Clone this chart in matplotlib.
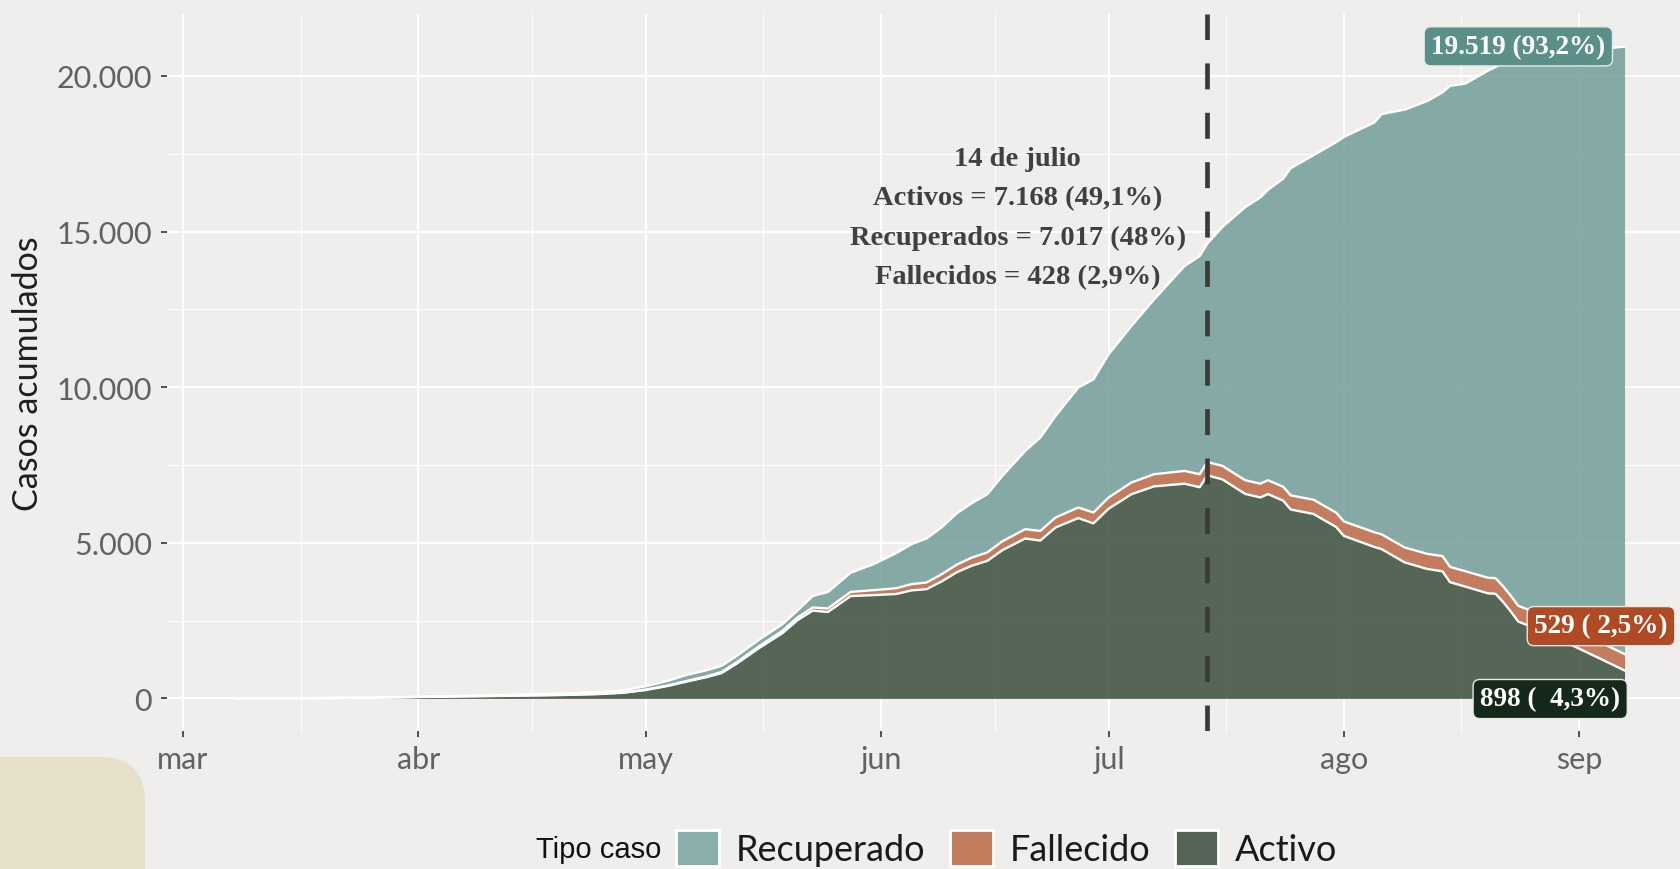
import numpy as np
import pandas as pd
import matplotlib
matplotlib.use("Agg")
import matplotlib.pyplot as plt
from matplotlib.patches import Patch, FancyBboxPatch
from matplotlib.ticker import FuncFormatter, FixedLocator

# casos acumulados por tipo (Activo / Fallecido / Recuperado)
fechas = [
    "2020-03-08", "2020-03-11", "2020-03-15", "2020-03-19", "2020-03-23", "2020-03-27",
    "2020-03-31", "2020-04-05", "2020-04-10", "2020-04-15", "2020-04-20", "2020-04-25",
    "2020-04-28", "2020-05-01", "2020-05-04", "2020-05-06", "2020-05-09", "2020-05-11",
    "2020-05-13", "2020-05-16", "2020-05-19", "2020-05-21", "2020-05-23", "2020-05-25",
    "2020-05-28", "2020-05-31", "2020-06-03", "2020-06-05", "2020-06-07", "2020-06-09",
    "2020-06-11", "2020-06-13", "2020-06-15", "2020-06-17", "2020-06-20", "2020-06-22",
    "2020-06-24", "2020-06-27", "2020-06-29", "2020-07-01", "2020-07-04", "2020-07-07",
    "2020-07-11", "2020-07-13", "2020-07-14", "2020-07-16", "2020-07-19", "2020-07-21",
    "2020-07-22", "2020-07-24", "2020-07-25", "2020-07-28", "2020-07-31", "2020-08-01",
    "2020-08-05", "2020-08-06", "2020-08-09", "2020-08-12", "2020-08-14", "2020-08-15",
    "2020-08-17", "2020-08-20", "2020-08-21", "2020-08-22", "2020-08-23", "2020-08-24",
    "2020-08-25", "2020-08-26", "2020-08-28", "2020-08-31", "2020-09-03", "2020-09-05",
    "2020-09-07",
]
activos = [
    1, 2, 6, 11, 18, 29, 42, 60, 75, 91, 110, 141, 181, 270, 404, 520, 682, 815,
    1120, 1630, 2095, 2515, 2822, 2775, 3288, 3318, 3355, 3470, 3510, 3760, 4055, 4268,
    4418, 4765, 5137, 5072, 5492, 5794, 5623, 6095, 6561, 6813, 6899, 6785, 7168, 7038,
    6570, 6457, 6565, 6354, 6070, 5927, 5505, 5222, 4868, 4795, 4372, 4159, 4085, 3734,
    3593, 3376, 3362, 3097, 2796, 2468, 2372, 2303, 2067, 1717, 1368, 1135, 898,
]
fallecidos = [
    0, 0, 0, 0, 0, 0, 1, 2, 3, 4, 5, 7, 9, 12, 16, 20, 28, 35,
    45, 60, 75, 85, 100, 115, 135, 160, 185, 200, 215, 230, 245, 260,
    270, 285, 300, 310, 320, 340, 350, 360, 375, 390, 410, 418, 428, 432,
    440, 443, 445, 448, 452, 457, 462, 465, 472, 475, 480, 485, 488, 492,
    495, 500, 501, 503, 504, 506, 508, 510, 513, 518, 522, 525, 529,
]
recuperados = [
    0, 0, 0, 0, 0, 0, 5, 10, 18, 30, 45, 55, 65, 110, 150, 190, 195, 200,
    205, 210, 215, 225, 370, 530, 615, 835, 1130, 1285, 1415, 1510, 1650, 1752,
    1872, 2100, 2514, 2999, 3263, 3853, 4281, 4602, 5029, 5620, 6583, 7010, 7017, 7680,
    8774, 9200, 9332, 9898, 10514, 11069, 11907, 12354, 13160, 13506, 14065, 14550, 14900, 15456,
    15665, 16294, 16426, 16800, 17130, 17476, 17620, 17727, 18040, 18495, 18950, 19230, 19519,
]

tipos = ["Recuperado", "Fallecido", "Activo"]
meses = ["mar", "abr", "may", "jun", "jul", "ago", "sep"]
inicio_meses = ["2020-03-01", "2020-04-01", "2020-05-01", "2020-06-01",
                "2020-07-01", "2020-08-01", "2020-09-01", "2020-10-01"]
fecha_corte = "2020-07-14"

FONDO = "#EFEEEC"
relleno = {"Recuperado": "#739E9A", "Fallecido": "#BC6845", "Activo": "#3A4E3C"}
caja = {"Recuperado": "#5B8F8A", "Fallecido": "#B04A22", "Activo": "#14291A"}
leyenda_color = {"Recuperado": "#8AAEAA", "Fallecido": "#C47C5E", "Activo": "#556656"}

SANS = ["Lato", "DejaVu Sans"]
SERIF = ["Liberation Serif", "DejaVu Serif"]


def miles(v):
    return f"{int(round(v)):,}".replace(",", ".")


def pct(v, total):
    p = round(v / total * 100, 1)
    s = f"{p:.1f}".replace(".", ",")
    return s[:-2] if s.endswith(",0") else s


x = pd.to_datetime(fechas)
a = np.array(activos, dtype=float)
f = np.array(fallecidos, dtype=float)
r = np.array(recuperados, dtype=float)
capas = [(0 * a, a, "Activo"), (a, a + f, "Fallecido"), (a + f, a + f + r, "Recuperado")]

fig = plt.figure(figsize=(16.8, 8.7), dpi=100, facecolor=FONDO)
ax = fig.add_axes([166.5 / 1680, 1 - 732 / 870, 1 - 166.5 / 1680, (732 - 15) / 870])
ax.set_facecolor(FONDO)

for base, tope, tipo in capas:
    ax.fill_between(x, base, tope, color=relleno[tipo], alpha=0.85, lw=0, zorder=2)
for base, tope, tipo in capas:
    ax.plot(x, tope, color="white", lw=1.7, zorder=3, solid_joinstyle="round")

ax.axvline(pd.Timestamp(fecha_corte), color="#3B3B3B", lw=3.4, dashes=(5.5, 4.96), zorder=4)

# ejes y grilla
mar1 = pd.Timestamp("2020-03-01")
ax.set_xlim(mar1 - pd.Timedelta(days=2.175), mar1 + pd.Timedelta(days=197.31))
ax.set_ylim(-1047, 21990)

mayores = pd.to_datetime(inicio_meses)
menores = mayores[:-1] + (mayores[1:] - mayores[:-1]) / 2
ax.set_xticks(mayores[:-1])
ax.set_xticklabels(meses)
ax.xaxis.set_minor_locator(FixedLocator(matplotlib.dates.date2num(menores)))
ax.set_yticks([0, 5000, 10000, 15000, 20000])
ax.yaxis.set_minor_locator(FixedLocator([2500, 7500, 12500, 17500]))
ax.yaxis.set_major_formatter(FuncFormatter(lambda v, _: miles(v)))

ax.grid(which="major", color="white", lw=1.5)
ax.grid(which="minor", color="white", lw=0.8)
ax.set_axisbelow(True)
for s in ax.spines.values():
    s.set_visible(False)
ax.tick_params(which="major", length=4.3, width=1.2, color="#333333", pad=6,
               labelsize=22, labelcolor="#626262")
ax.tick_params(which="minor", length=0)
for t in ax.get_xticklabels() + ax.get_yticklabels():
    t.set_family(SANS)
ax.set_ylabel("Casos acumulados", fontsize=24.5, family=SANS, color="#1E1E1E", labelpad=9)

# anotacion del dia de corte
i = fechas.index(fecha_corte)
tot_i = a[i] + f[i] + r[i]
nota = (f"14 de julio\n"
        f"Activos = {miles(a[i])} ({pct(a[i], tot_i)}%)\n"
        f"Recuperados = {miles(r[i])} ({pct(r[i], tot_i)}%)\n"
        f"Fallecidos = {miles(f[i])} ({pct(f[i], tot_i)}%)")
ax.text(pd.Timestamp("2020-06-19"), 15450, nota, ha="center", va="center",
        fontsize=20.5, family=SERIF, fontweight="bold", color="#404040",
        linespacing=1.75, zorder=5)

# etiquetas al final de cada serie
tot = a[-1] + f[-1] + r[-1]
etiquetas = [
    ("Recuperado", f"{miles(r[-1])} ({pct(r[-1], tot)}%)", 176.0, 20950),
    ("Fallecido", f"{miles(f[-1])} ({pct(f[-1], tot):>4}%)", 186.9, 2323),
    ("Activo", f"{miles(a[-1])} ({pct(a[-1], tot):>5}%)", 180.2, -20),
]
for tipo, texto, dia, yv in etiquetas:
    ax.text(mar1 + pd.Timedelta(days=dia), yv, texto, ha="center", va="center",
            fontsize=19.5, family=SERIF, fontweight="bold", color="white", zorder=6,
            bbox=dict(boxstyle="round,pad=0.26,rounding_size=0.25",
                      fc=caja[tipo], ec="#E8E8E8", lw=1))

# leyenda
fig.text(661 / 1680, 1 - 850 / 870, "Tipo caso", ha="right", va="center",
         fontsize=21, family=["Liberation Sans", "DejaVu Sans"], color="#111111")
manijas = [Patch(fc=leyenda_color[t], ec="white", lw=2) for t in tipos]
fig.legend(manijas, tipos, loc="center left", bbox_to_anchor=(658 / 1680, 1 - 849 / 870),
           ncol=3, frameon=False, prop={"family": SANS, "size": 26}, borderpad=0,
           handlelength=1.19, handleheight=1.19, handletextpad=0.47, columnspacing=0.68,
           labelcolor="#1A1A1A")

# adorno de fondo abajo a la izquierda
fig.patches.append(FancyBboxPatch((-0.6, -0.6), 2.05, 1.72,
                                  boxstyle="round,pad=0,rounding_size=0.45",
                                  transform=fig.dpi_scale_trans, fc="#E6DFCA", ec="none",
                                  zorder=0))

fig.savefig("out.png", dpi=100, facecolor=FONDO)
